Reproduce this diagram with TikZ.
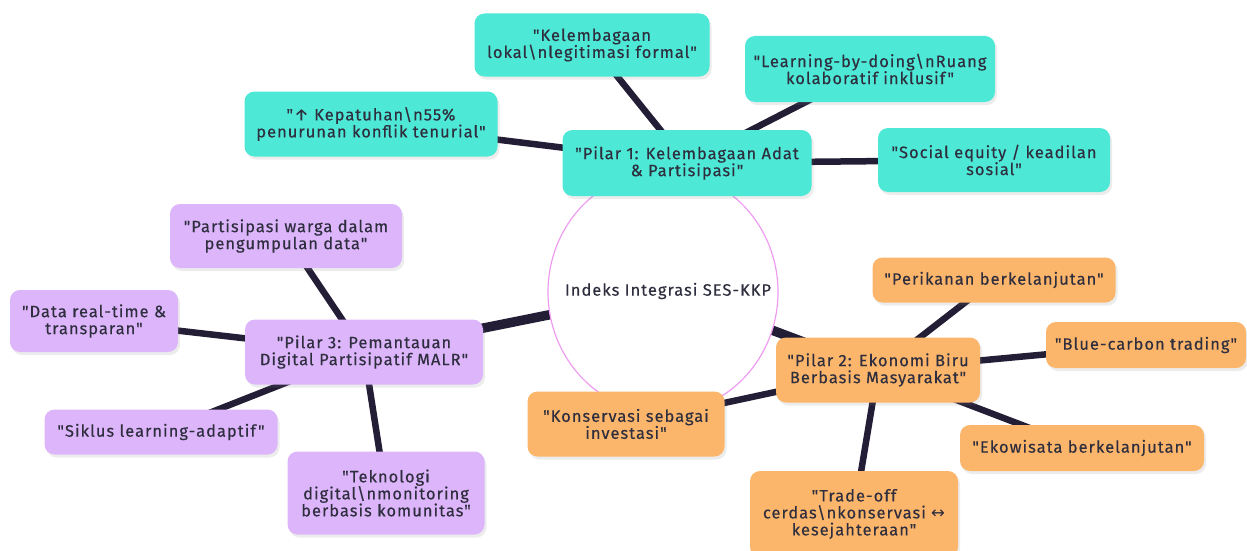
\documentclass[tikz,border=0pt]{standalone}
\usepackage{fontspec}
\newfontfamily\labelfont{Fira Sans}[LetterSpace=6, FakeBold=0.3]
\newfontfamily\arrowfont{DejaVu Sans}[LetterSpace=5]
\usetikzlibrary{shadows}
\pgfdeclarelayer{bg}
\pgfsetlayers{bg,main}
\definecolor{pilarA}{HTML}{4DE8D6}
\definecolor{pilarB}{HTML}{FCB66B}
\definecolor{pilarC}{HTML}{DCB5FA}
\definecolor{edgecol}{HTML}{231D36}
\definecolor{rootline}{HTML}{EE9CF0}
\definecolor{txt}{HTML}{2E2E3E}

\begin{document}
\begin{tikzpicture}[x=1pt,y=-1pt,
    box/.style={rounded corners=10pt, align=center, text=txt, inner sep=3pt,
      font=\labelfont\fontsize{16.5}{17}\selectfont,
      drop shadow={shadow xshift=2pt, shadow yshift=-3pt, opacity=0.15}},
    boxA/.style={box, fill=pilarA},
    boxB/.style={box, fill=pilarB},
    boxC/.style={box, fill=pilarC},
    sz/.style 2 args={minimum width=#1, minimum height=#2},
    rootlink/.style={draw=edgecol, line width=9.5pt},
    leaflink/.style={draw=edgecol, line width=6.5pt}]
  \useasboundingbox (0,0) rectangle (1247,551);

  \draw[rootline, line width=1.2pt, fill=white] (663,292) ellipse [x radius=115, y radius=121];
  \node[text=txt, font=\labelfont\fontsize{16.5}{17}\selectfont] (root) at (668,291) {Indeks Integrasi SES-KKP};

  \node[boxA, sz={249}{66}] (pilar1) at (687,163) {"Pilar 1: Kelembagaan Adat\\\& Partisipasi"};
  \node[boxA, sz={235}{63}] (lokal) at (592,45) {"Kelembagaan\\lokal\textbackslash nlegitimasi formal"};
  \node[boxA, sz={250}{66}] (learning) at (870,69) {"Learning-by-doing\textbackslash nRuang\\kolaboratif inklusif"};
  \node[boxA, sz={253}{65}] (patuh) at (371,124) {"↑ Kepatuhan\textbackslash n55\%\\penurunan konflik tenurial"};
  \node[boxA, sz={232}{64}] (equity) at (994,160) {"Social equity / keadilan\\sosial"};

  \node[boxC, sz={238}{65}] (pilar3) at (364,352) {"Pilar 3: Pemantauan\\Digital Partisipatif MALR"};
  \node[boxC, sz={232}{64}] (warga) at (286,236) {"Partisipasi warga dalam\\pengumpulan data"};
  \node[boxC, sz={168}{62}] (realtime) at (94,321) {"Data real-time \&\\transparan"};
  \node[boxC, sz={233}{45}] (siklus) at (161,432) {"Siklus learning-adaptif"};
  \node[boxC, sz={197}{83}] (teknologi) at (386,493) {"Teknologi\\digital\textbackslash nmonitoring\\berbasis komunitas"};

  \node[boxB, sz={204}{65}] (pilar2) at (878,370) {"Pilar 2: Ekonomi Biru\\Berbasis Masyarakat"};
  \node[boxB, sz={243}{45}] (perikanan) at (994,280) {"Perikanan berkelanjutan"};
  \node[boxB, sz={200}{46}] (bluecarbon) at (1146,345) {"Blue-carbon trading"};
  \node[boxB, sz={244}{46}] (ekowisata) at (1082,448) {"Ekowisata berkelanjutan"};
  \node[boxB, sz={208}{86}] (tradeoff) at (854,514) {"Trade-off\\cerdas\textbackslash nkonservasi {\arrowfont ↔}\\kesejahteraan"};
  \node[boxB, sz={197}{65}] (konservasi) at (626,424) {"Konservasi sebagai\\investasi"};

  \begin{pgfonlayer}{bg}
    \draw[rootlink] (root.center) -- (pilar1.center);
    \draw[rootlink] (root.center) -- (pilar2.center);
    \draw[rootlink] (root.center) -- (pilar3.center);
    \draw[leaflink] (pilar1.center) -- (lokal.center);
    \draw[leaflink] (pilar1.center) -- (learning.center);
    \draw[leaflink] (pilar1.center) -- (patuh.center);
    \draw[leaflink] (pilar1.center) -- (equity.center);
    \draw[leaflink] (pilar3.center) -- (warga.center);
    \draw[leaflink] (pilar3.center) -- (realtime.center);
    \draw[leaflink] (pilar3.center) -- (siklus.center);
    \draw[leaflink] (pilar3.center) -- (teknologi.center);
    \draw[leaflink] (pilar2.center) -- (perikanan.center);
    \draw[leaflink] (pilar2.center) -- (bluecarbon.center);
    \draw[leaflink] (pilar2.center) -- (ekowisata.center);
    \draw[leaflink] (pilar2.center) -- (tradeoff.center);
    \draw[leaflink] (pilar2.center) -- (konservasi.center);
  \end{pgfonlayer}
\end{tikzpicture}
\end{document}
